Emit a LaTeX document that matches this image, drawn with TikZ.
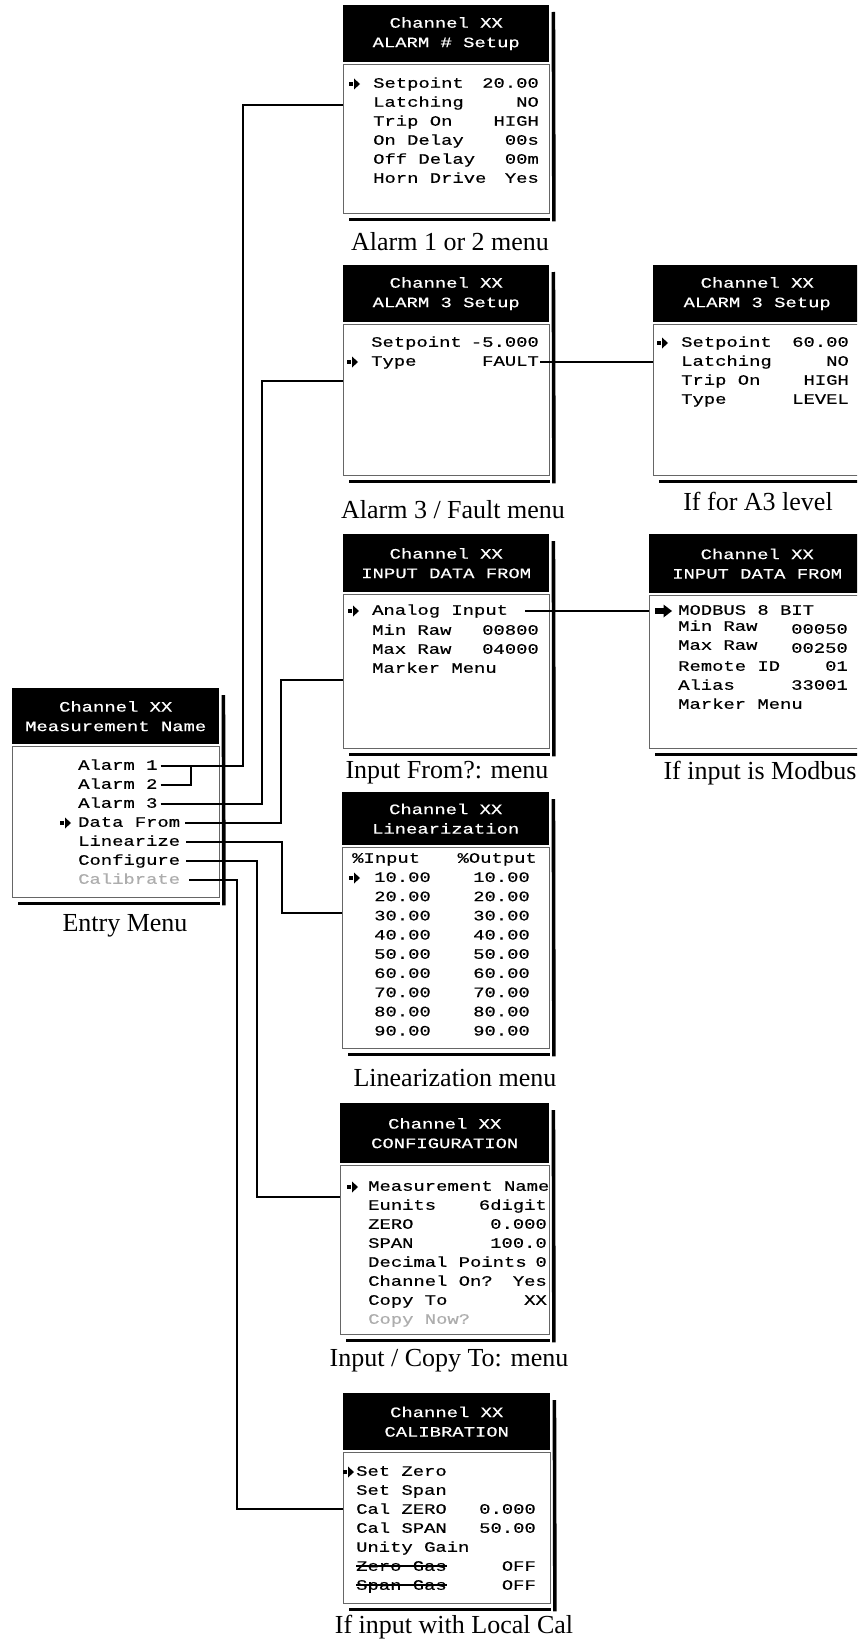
\documentclass[tikz,border=0pt]{standalone}
\usepackage{fontspec}
\setmainfont{Liberation Serif}
\newfontfamily\lcdfont[FakeStretch=1.31,FakeBold=0.5]{Liberation Mono}
\tikzset{
 hdr/.style={fill=black, text=white, align=center, inner sep=0pt, anchor=north west,
   font=\lcdfont\fontsize{14.4}{19.5}\selectfont},
 bodybox/.style={draw=black!60, line width=0.9pt, fill=white, inner sep=0pt, anchor=north west},
 shadowline/.style={line width=3.6pt},
 lbl/.style={anchor=west, inner sep=0pt, text height=9.5pt, text depth=2pt,
   font=\lcdfont\fontsize{14.4}{17}\selectfont},
 val/.style={lbl, anchor=east},
 dim/.style={text=black!32},
 conn/.style={line width=1.9pt},
 caption/.style={font=\fontsize{26}{30}\selectfont, inner sep=0pt},
 strike/.style={line width=1.1pt},
}
% name, left, top, width, header height, body height, title
\newcommand\menubox[7]{%
 \node[hdr, minimum width=#4pt, minimum height=#5pt] (#1h) at (#2,#3) {#7};
 \node[bodybox, minimum width=#4pt, minimum height=#6pt] (#1b) at ([yshift=-1.5pt]#1h.south west) {};
 \draw[shadowline] ([xshift=6pt,yshift=-5pt]#1b.south west) -- ([yshift=-5pt]#1b.south east);
 \draw[shadowline] ([xshift=4pt,yshift=-7pt]#1h.north east) -- ([xshift=4pt,yshift=-7pt]#1b.south east);
}
% label/value row: name, left x, right x, y, label, value
\newcommand\kv[6]{\node[lbl] (#1l) at (#2,#4) {#5}; \node[val] (#1v) at (#3,#4) {#6};}
% selection marker: tip x, y
\newcommand\selmark[2]{%
 \fill (#1-11,#2-1.8) rectangle (#1-7.5,#2+1.8);
 \fill (#1-6,#2-5.5) -- (#1,#2) -- (#1-6,#2+5.5) -- cycle;
}
\newcommand\bigarrow[2]{%
 \fill (#1-17,#2-2.6) rectangle (#1-7,#2+2.6);
 \fill (#1-8.5,#2-6.5) -- (#1,#2) -- (#1-8.5,#2+6.5) -- cycle;
}
\begin{document}
\begin{tikzpicture}[x=1pt,y=-1pt]
\useasboundingbox (0,0) rectangle (857,1643);
\clip (0,0) rectangle (857,1643);

% ---------- Entry menu ----------
\menubox{en}{12}{688}{207}{56}{151.5}{Channel XX\\Measurement Name}
\node[lbl] (enA1) at (78,766) {Alarm 1};
\node[lbl] (enA2) at (78,785) {Alarm 2};
\node[lbl] (enA3) at (78,804) {Alarm 3};
\node[lbl] (enDF) at (78,823) {Data From};
\node[lbl] (enLN) at (78,842) {Linearize};
\node[lbl] (enCF) at (78,861) {Configure};
\node[lbl,dim] (enCB) at (78,880) {Calibrate};
\selmark{71}{823}
\node[caption] (enc) at (125,926) {Entry Menu};

% ---------- Alarm 1 or 2 ----------
\menubox{al}{343}{5}{206}{57}{149.5}{Channel XX\\ALARM \# Setup}
\selmark{360}{84}
\kv{alA}{373}{539}{84}{Setpoint}{20.00}
\kv{alB}{373}{539}{103}{Latching}{NO}
\kv{alC}{373}{539}{122}{Trip On}{HIGH}
\kv{alD}{373}{539}{141}{On Delay}{00s}
\kv{alE}{373}{539}{160}{Off Delay}{00m}
\kv{alF}{373}{539}{179}{Horn Drive}{Yes}
\node[caption] (alc) at (450,242) {Alarm 1 or 2 menu};

% ---------- Alarm 3 / Fault ----------
\menubox{at}{343}{265}{206}{57}{151.5}{Channel XX\\ALARM 3 Setup}
\kv{atA}{371}{539}{343}{Setpoint}{-5.000}
\kv{atB}{371}{539}{362}{Type}{FAULT}
\selmark{358}{362}
\node[caption] (atc) at (453,510) {Alarm 3 / Fault menu};

% ---------- A3 level ----------
\menubox{lv}{653}{265}{208}{57}{151.5}{Channel XX\\ALARM 3 Setup}
\selmark{668}{343}
\kv{lvA}{681}{849}{343}{Setpoint}{60.00}
\kv{lvB}{681}{849}{362}{Latching}{NO}
\kv{lvC}{681}{849}{381}{Trip On}{HIGH}
\kv{lvD}{681}{849}{400}{Type}{LEVEL}
\node[caption] (lvc) at (758,501) {If for A3 level};

% ---------- Input from ----------
\menubox{in}{343}{534}{206}{58}{154.5}{Channel XX\\INPUT DATA FROM}
\selmark{359}{611}
\node[lbl] (inA) at (372,611) {Analog Input};
\kv{inB}{372}{539}{631}{Min Raw}{00800}
\kv{inC}{372}{539}{650}{Max Raw}{04000}
\node[lbl] (inD) at (372,669) {Marker Menu};
\node[caption] (inc) at (447,773) {Input From?: menu};

% ---------- Modbus ----------
\menubox{mb}{649}{534}{216}{59}{153.5}{Channel XX\\INPUT DATA FROM}
\bigarrow{672}{611}
\node[lbl] (mbA) at (678,611) {MODBUS 8 BIT};
\node[lbl] (mbBl) at (678,627) {Min Raw};
\node[val] (mbBv) at (848,630) {00050};
\node[lbl] (mbCl) at (678,646) {Max Raw};
\node[val] (mbCv) at (848,649) {00250};
\kv{mbD}{678}{848}{667}{Remote ID}{01}
\kv{mbE}{678}{848}{686}{Alias}{33001}
\node[lbl] (mbF) at (678,705) {Marker Menu};
\node[caption] (mbc) at (760,773) {If input is Modbus};

% ---------- Linearization ----------
\menubox{ln}{342}{792}{207}{53}{201.5}{Channel XX\\Linearization}
\node[lbl] (lnH1) at (352,859) {\%Input};
\node[val] (lnH2) at (537,859) {\%Output};
\foreach \v [count=\i] in {10.00,20.00,30.00,40.00,50.00,60.00,70.00,80.00,90.00}{
  \node[lbl] (lnL\i) at (374,859+19.2*\i) {\v};
  \node[val] (lnR\i) at (530,859+19.2*\i) {\v};
}
\selmark{360}{878}
\node[caption] (lnc) at (455,1078) {Linearization menu};

% ---------- Configuration ----------
\menubox{cf}{340}{1103}{209}{60}{169.5}{Channel XX\\CONFIGURATION}
\selmark{358}{1187}
\node[lbl] (cfA) at (368,1187) {Measurement Name};
\kv{cfB}{368}{547}{1206}{Eunits}{6digit}
\kv{cfC}{368}{547}{1225}{ZERO}{0.000}
\kv{cfD}{368}{547}{1244}{SPAN}{100.0}
\kv{cfE}{368}{547}{1263}{Decimal Points}{0}
\kv{cfF}{368}{547}{1282}{Channel On?}{Yes}
\kv{cfG}{368}{547}{1301}{Copy To}{XX}
\node[lbl,dim] (cfH) at (368,1320) {Copy Now?};
\node[caption] (cfc) at (449,1361) {Input / Copy To: menu};

% ---------- Calibration ----------
\menubox{cb}{343}{1393}{207}{57}{151.5}{Channel XX\\CALIBRATION}
\selmark{354}{1472}
\node[lbl] (cbA) at (356,1472) {Set Zero};
\node[lbl] (cbB) at (356,1491) {Set Span};
\kv{cbC}{356}{536}{1510}{Cal ZERO}{0.000}
\kv{cbD}{356}{536}{1529}{Cal SPAN}{50.00}
\node[lbl] (cbE) at (356,1548) {Unity Gain};
\kv{cbF}{356}{536}{1567}{Zero Gas}{OFF}
\kv{cbG}{356}{536}{1586}{Span Gas}{OFF}
\draw[strike] ([yshift=1pt]cbFl.west) -- ([yshift=1pt]cbFl.east);
\draw[strike] ([yshift=1pt]cbGl.west) -- ([yshift=1pt]cbGl.east);
\node[caption] (cbc) at (454,1627) {If input with Local Cal};

% ---------- connectors ----------
\coordinate (k1) at (243,105);
\coordinate (k2) at (191,766);
\coordinate (k3) at (262,381);
\coordinate (k4) at (281,680);
\coordinate (k5) at (282,913);
\coordinate (k6) at (257,1197);
\coordinate (k7) at (237,1509);
\draw[conn] ([xshift=3pt]enA1.east) -| (k1) -- (alb.west |- k1);
\draw[conn] ([xshift=3pt]enA2.east) -| (k2);
\draw[conn] ([xshift=3pt]enA3.east) -| (k3) -- (atb.west |- k3);
\draw[conn] ([xshift=5pt]enDF.east) -| (k4) -- (inb.west |- k4);
\draw[conn] ([xshift=6pt]enLN.east) -| (k5) -- (lnb.west |- k5);
\draw[conn] ([xshift=6pt]enCF.east) -| (k6) -- (cfb.west |- k6);
\draw[conn] ([xshift=9pt]enCB.east) -| (k7) -- (cbb.west |- k7);
\draw[conn] ([xshift=1pt]atBv.east) -- (lvb.west |- atBv.east);
\draw[conn] ([xshift=17pt]inA.east) -- (mbb.west |- inA.east);
\end{tikzpicture}
\end{document}
